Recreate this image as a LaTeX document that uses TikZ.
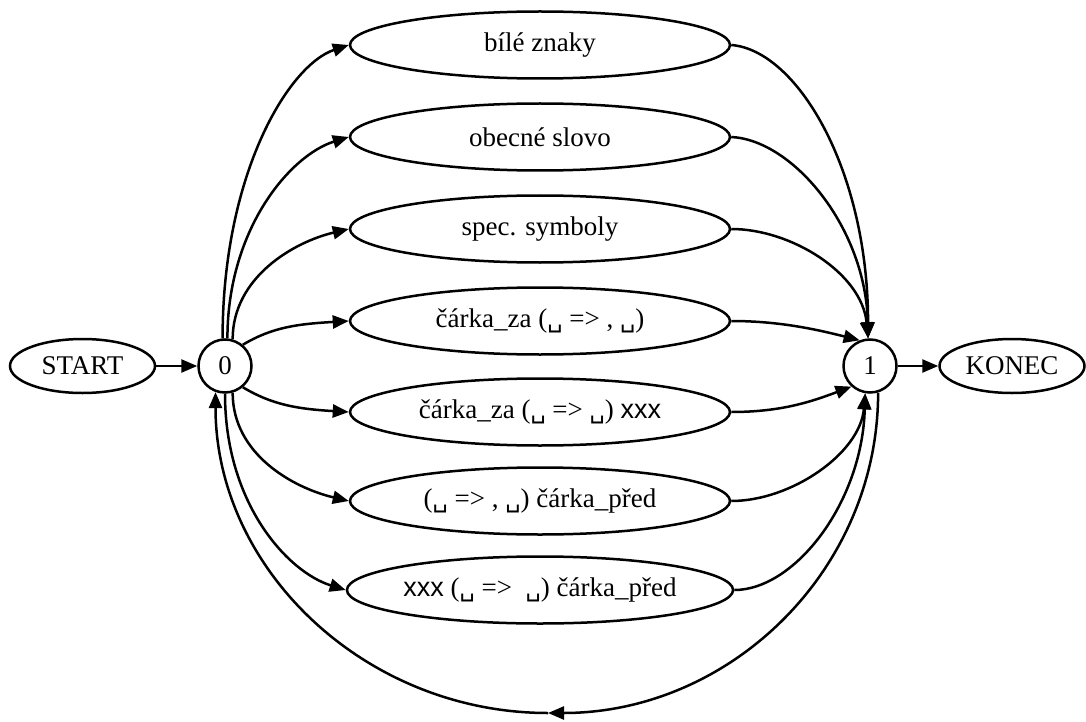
\documentclass[tikz,border=0pt]{standalone}
\usepackage{fontspec}
\setmainfont{Liberation Serif}
\newfontfamily\arialfont{Liberation Sans}
\newfontfamily\visfont{DejaVu Sans}
\usetikzlibrary{arrows.meta,shapes.geometric}
% visible space and sans placeholder used in the rule names
\newcommand\vsp{{\visfont\fontsize{24}{26}\selectfont ␣}}
\newcommand\xxx{{\arialfont xxx}}

\begin{document}
\begin{tikzpicture}[x=1pt,y=1pt,line width=2.5pt,
  every node/.style={font=\fontsize{27}{30}\selectfont,inner sep=0pt},
  rule/.style={draw,ellipse,minimum width=380pt,minimum height=67pt},
  term/.style={draw,ellipse,minimum width=145pt,minimum height=54pt},
  num/.style={draw,circle,minimum size=53pt},
  arr/.style={-{Triangle[length=16pt,width=13pt]}}]

\useasboundingbox (0,0) rectangle (1086,-722);

% start / end states
\node[term] (start) at (82.5,-366) {START};
\node[num]  (n0)    at (225,-366)  {0};
\node[num]  (n1)    at (870,-366)  {1};
\node[term] (konec) at (1012,-366) {KONEC};

% tokenizer rules
\node[rule] (e1) at (540,-45)  {bílé znaky};
\node[rule] (e2) at (540,-137) {obecné slovo};
\node[rule] (e3) at (540,-229) {spec. symboly};
\node[rule] (e4) at (540,-321) {čárka\_za (\vsp\ => , \vsp)};
\node[rule] (e5) at (540,-412) {čárka\_za (\vsp\ => \vsp) \xxx};
\node[rule] (e6) at (540,-501) {(\vsp\ => , \vsp) čárka\_před};
\node[rule] (e7) at (540,-590) {\xxx\ (\vsp\ =>\ \ \vsp) čárka\_před};

\coordinate (back) at (548,-713);

\draw[arr] (start) -- (n0);
\draw[arr] (n1) -- (konec);

% fan out from state 0
\draw[arr] (n0.95)  .. controls +(0,165)  and +(-60,-20) .. (e1.west);
\draw[arr] (n0.85)  .. controls +(0,110)  and +(-58,-18) .. (e2.west);
\draw[arr] (n0.74)  .. controls +(0,62)   and +(-55,-13) .. (e3.west);
\draw[arr] (n0.50)  .. controls +(30,18)  and +(-50,-3)  .. (e4.west);
\draw[arr] (n0.-50) .. controls +(30,-18) and +(-50,3)   .. (e5.west);
\draw[arr] (n0.-74) .. controls +(0,-62)  and +(-55,13)  .. (e6.west);
\draw[arr] (n0.-90) .. controls +(0,-110) and +(-58,18)  .. (e7.west);

% fan in to state 1
\draw[arr] (e1.east) .. controls +(65,-5) and +(0,170)  .. (n1.94);
\draw[arr] (e2.east) .. controls +(62,-3) and +(-2,110) .. (n1.94);
\draw[arr] (e3.east) .. controls +(60,0)  and +(-6,65)  .. (n1.94);
\draw[arr] (e4.east) .. controls +(50,0)  and +(-40,10) .. (n1.112);
\draw[arr] (e5.east) .. controls +(50,0)  and +(-40,-15) .. (n1.-132);
\draw[arr] (e6.east) .. controls +(60,0)  and +(-5,-60)  .. (n1.-100);
\draw[arr] (e7.east) .. controls +(60,0)  and +(-3,-110) .. (n1.-100);

% return loop from 1 back to 0
\draw[arr] (n1.-73) .. controls +(0,-178) and +(182,0) .. (back);
\draw[arr] (back) .. controls +(-182,0) and +(0,-178) .. (n0.-110);
\end{tikzpicture}
\end{document}
